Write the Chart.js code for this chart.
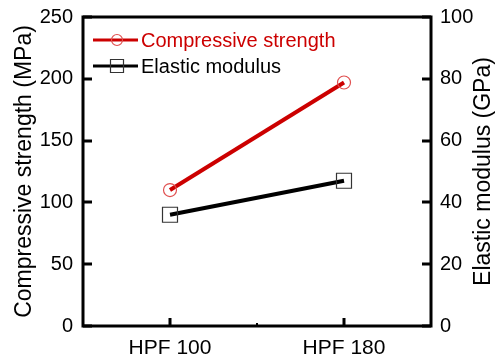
<!DOCTYPE html>
<html>
<head>
<meta charset="utf-8">
<script src="https://cdn.jsdelivr.net/npm/chart.js@4"></script>
<style>
html,body{margin:0;padding:0;background:#fff;}
canvas{display:block;}
</style>
</head>
<body>
<canvas id="c" width="501" height="362"></canvas>
<script>
const categories = ['HPF 100', 'HPF 180'];
const compressiveStrength = [110, 197];
const elasticModulus = [36, 47];
const leftTicks = [0, 50, 100, 150, 200, 250];
const rightTicks = [0, 20, 40, 60, 80, 100];
const leftTitle = 'Compressive strength (MPa)';
const rightTitle = 'Elastic modulus (GPa)';
const seriesNames = ['Compressive strength', 'Elastic modulus'];

const FONT = '"Liberation Sans", Arial, Helvetica, sans-serif';
const RED = '#cc0000';

function noPad(s) { s.paddingTop = 0; s.paddingBottom = 0; s.paddingLeft = 0; s.paddingRight = 0; }

const framePlugin = {
  id: 'frame',
  afterDraw(chart) {
    const ctx = chart.ctx;
    const a = chart.chartArea;
    ctx.save();
    ctx.strokeStyle = '#000';
    ctx.lineWidth = 3;
    ctx.strokeRect(a.left, a.top, a.right - a.left, a.bottom - a.top);
    const y = chart.scales.y, y1 = chart.scales.y1, x = chart.scales.x;
    ctx.beginPath();
    y.ticks.forEach((t, i) => {
      const py = Math.round(y.getPixelForTick(i));
      ctx.moveTo(a.left, py); ctx.lineTo(a.left + 9, py);
    });
    y1.ticks.forEach((t, i) => {
      const py = Math.round(y1.getPixelForTick(i));
      ctx.moveTo(a.right, py); ctx.lineTo(a.right - 9, py);
    });
    x.ticks.forEach((t, i) => {
      const px = Math.round(x.getPixelForTick(i));
      ctx.moveTo(px, a.bottom); ctx.lineTo(px, a.bottom - 8);
    });
    ctx.stroke();
    ctx.lineWidth = 2;
    ctx.beginPath();
    const mid = (x.getPixelForTick(0) + x.getPixelForTick(1)) / 2;
    ctx.moveTo(Math.round(mid), a.bottom); ctx.lineTo(Math.round(mid), a.bottom - 3);
    ctx.stroke();

    ctx.fillStyle = '#000';
    ctx.font = '23px ' + FONT;
    ctx.textAlign = 'center';
    ctx.textBaseline = 'middle';
    const cy = (a.top + a.bottom) / 2;
    ctx.save();
    ctx.translate(25, cy);
    ctx.rotate(-Math.PI / 2);
    ctx.fillText(leftTitle, 0, 0);
    ctx.restore();
    ctx.save();
    ctx.translate(484, cy);
    ctx.rotate(-Math.PI / 2);
    ctx.fillText(rightTitle, 0, 0);
    ctx.restore();

    const items = [
      {y: a.top + 23, color: RED, text: seriesNames[0], marker: 'circle', mcolor: '#e05050'},
      {y: a.top + 49, color: '#000', text: seriesNames[1], marker: 'rect', mcolor: '#333'}
    ];
    ctx.font = '20px ' + FONT;
    ctx.textAlign = 'left';
    items.forEach(it => {
      ctx.strokeStyle = it.color;
      ctx.lineWidth = 3;
      ctx.beginPath();
      ctx.moveTo(a.left + 10, it.y); ctx.lineTo(a.left + 55, it.y);
      ctx.stroke();
      ctx.lineWidth = 1.2;
      ctx.strokeStyle = it.mcolor;
      ctx.beginPath();
      if (it.marker === 'circle') {
        ctx.arc(a.left + 34, it.y, 5.5, 0, Math.PI * 2);
      } else {
        ctx.rect(a.left + 34 - 6.5, it.y - 6.5, 13, 13);
      }
      ctx.stroke();
      ctx.fillStyle = it.color;
      ctx.fillText(it.text, a.left + 58, it.y + 1);
    });
    ctx.restore();
  }
};

new Chart(document.getElementById('c'), {
  type: 'line',
  data: {
    labels: categories,
    datasets: [
      {
        label: seriesNames[0],
        data: compressiveStrength,
        yAxisID: 'y',
        borderColor: RED,
        borderWidth: 4,
        pointStyle: 'circle',
        pointRadius: 6.5,
        pointBorderWidth: 1.2,
        pointBorderColor: '#e05050',
        pointBackgroundColor: 'rgba(0,0,0,0)',
        tension: 0
      },
      {
        label: seriesNames[1],
        data: elasticModulus,
        yAxisID: 'y1',
        borderColor: '#000',
        borderWidth: 4,
        pointStyle: 'rect',
        pointRadius: 10.6,
        pointBorderWidth: 1.2,
        pointBorderColor: '#333',
        pointBackgroundColor: 'rgba(0,0,0,0)',
        tension: 0
      }
    ]
  },
  options: {
    responsive: false,
    animation: false,
    devicePixelRatio: 1,
    layout: {padding: {top: 17, left: 0, right: 0, bottom: 0}},
    plugins: {legend: {display: false}, tooltip: {enabled: false}},
    scales: {
      x: {
        type: 'category',
        offset: true,
        grid: {display: false, drawTicks: false, tickLength: 0},
        border: {display: false},
        ticks: {color: '#000', font: {family: FONT, size: 21}, padding: 10, maxRotation: 0},
        afterFit(s) { s.height = 36; noPad(s); }
      },
      y: {
        position: 'left',
        min: 0, max: 250,
        afterBuildTicks(s) { s.ticks = leftTicks.map(v => ({value: v})); },
        grid: {display: false, drawTicks: false, tickLength: 0},
        border: {display: false},
        ticks: {color: '#000', font: {family: FONT, size: 20}, padding: 10},
        afterFit(s) { s.width = 83; noPad(s); }
      },
      y1: {
        position: 'right',
        min: 0, max: 100,
        afterBuildTicks(s) { s.ticks = rightTicks.map(v => ({value: v})); },
        grid: {display: false, drawTicks: false, tickLength: 0},
        border: {display: false},
        ticks: {color: '#000', font: {family: FONT, size: 20}, padding: 9},
        afterFit(s) { s.width = 70; noPad(s); }
      }
    }
  },
  plugins: [framePlugin]
});
</script>
</body>
</html>
